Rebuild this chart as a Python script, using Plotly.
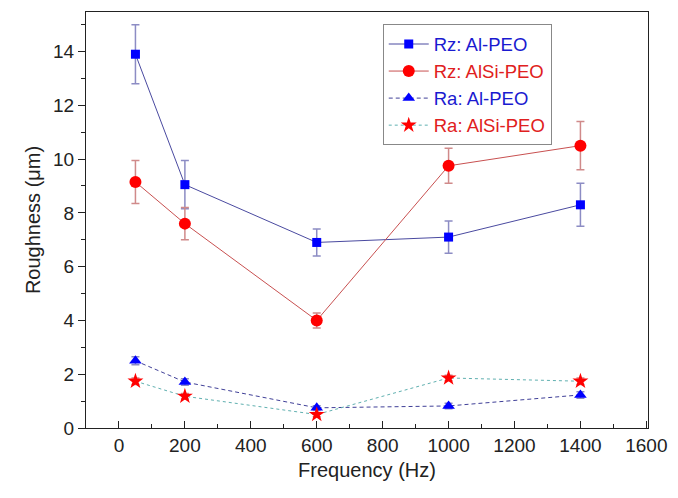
import plotly.graph_objects as go

# Surface roughness of PEO coatings versus pulse frequency
freq = [50, 200, 600, 1000, 1400]

rz_al = [13.9, 9.05, 6.9, 7.1, 8.3]
rz_al_err = [1.1, 0.9, 0.5, 0.6, 0.8]

rz_alsi = [9.15, 7.6, 4.0, 9.75, 10.5]
rz_alsi_err = [0.8, 0.6, 0.28, 0.65, 0.9]

ra_al = [2.5, 1.71, 0.75, 0.82, 1.23]
ra_al_err = [0.15, 0.12, 0.08, 0.1, 0.12]

ra_alsi = [1.74, 1.18, 0.5, 1.86, 1.74]
ra_alsi_err = [0.12, 0.1, 0.08, 0.1, 0.12]

BLUE = "#0000ff"
RED = "#ff0000"

series = [
    dict(name="Rz: Al-PEO", y=rz_al, err=rz_al_err, symbol="square", size=9,
         mcolor=BLUE, lcolor="#4a4aa0", dash="solid", ecolor="#8c8cc4", tcolor="#1a1ad0"),
    dict(name="Rz: AlSi-PEO", y=rz_alsi, err=rz_alsi_err, symbol="circle", size=12,
         mcolor=RED, lcolor="#c85050", dash="solid", ecolor="#d08a8a", tcolor="#e02020"),
    dict(name="Ra: Al-PEO", y=ra_al, err=ra_al_err, symbol="triangle-up", size=11,
         mcolor=BLUE, lcolor="#404098", dash="4px,3px", ecolor="#8c8cc4", tcolor="#1a1ad0"),
    dict(name="Ra: AlSi-PEO", y=ra_alsi, err=ra_alsi_err, symbol="star", size=12,
         mcolor=RED, lcolor="#60b0b0", dash="dot", ecolor="#d08a8a", tcolor="#e02020"),
]

fig = go.Figure()
for s in series:
    fig.add_trace(go.Scatter(
        x=freq, y=s["y"], mode="lines+markers",
        name=f"<span style='color:{s['tcolor']}'>{s['name']}</span>",
        line=dict(color=s["lcolor"], width=1, dash=s["dash"]),
        marker=dict(symbol=s["symbol"], size=s["size"], color=s["mcolor"],
                    line=dict(width=0)),
        error_y=dict(type="data", array=s["err"], visible=True,
                     color=s["ecolor"], thickness=1.5, width=4),
    ))

FONT = "Liberation Sans, Arial, sans-serif"
axis_font = dict(family=FONT, size=19, color="#222")

fig.update_layout(
    width=678, height=498,
    margin=dict(l=86, r=24, t=11, b=70),
    paper_bgcolor="white", plot_bgcolor="white",
    font=axis_font,
    showlegend=True,
    legend=dict(
        x=0.528, y=0.97, xanchor="left", yanchor="top",
        bgcolor="white", bordercolor="#888", borderwidth=1,
        font=dict(family=FONT, size=18.5),
        tracegroupgap=0, itemwidth=40,
    ),
    xaxis=dict(
        range=[-100, 1605], tickmode="linear", tick0=0, dtick=200,
        ticks="inside", ticklen=7, tickwidth=1.3, tickcolor="#222",
        minor=dict(ticks="inside", ticklen=4, dtick=100, tick0=0, tickcolor="#222", tickwidth=1.2),
        showline=True, mirror=True, linecolor="#222", linewidth=1.3,
        showgrid=False, zeroline=False,
        title=dict(text="Frequency (Hz)", font=dict(family=FONT, size=20), standoff=8),
        tickfont=axis_font,
    ),
    yaxis=dict(
        range=[0, 15.47], tickmode="linear", tick0=0, dtick=2,
        ticks="outside", ticklen=7, tickwidth=1.3, tickcolor="#222",
        minor=dict(ticks="outside", ticklen=4, dtick=1, tick0=0, tickcolor="#222", tickwidth=1.2),
        showline=True, mirror=True, linecolor="#222", linewidth=1.3,
        showgrid=False, zeroline=False,
        title=dict(text="Roughness (μm)", font=dict(family=FONT, size=20), standoff=6),
        tickfont=axis_font,
    ),
)

fig.write_html("out.html")
